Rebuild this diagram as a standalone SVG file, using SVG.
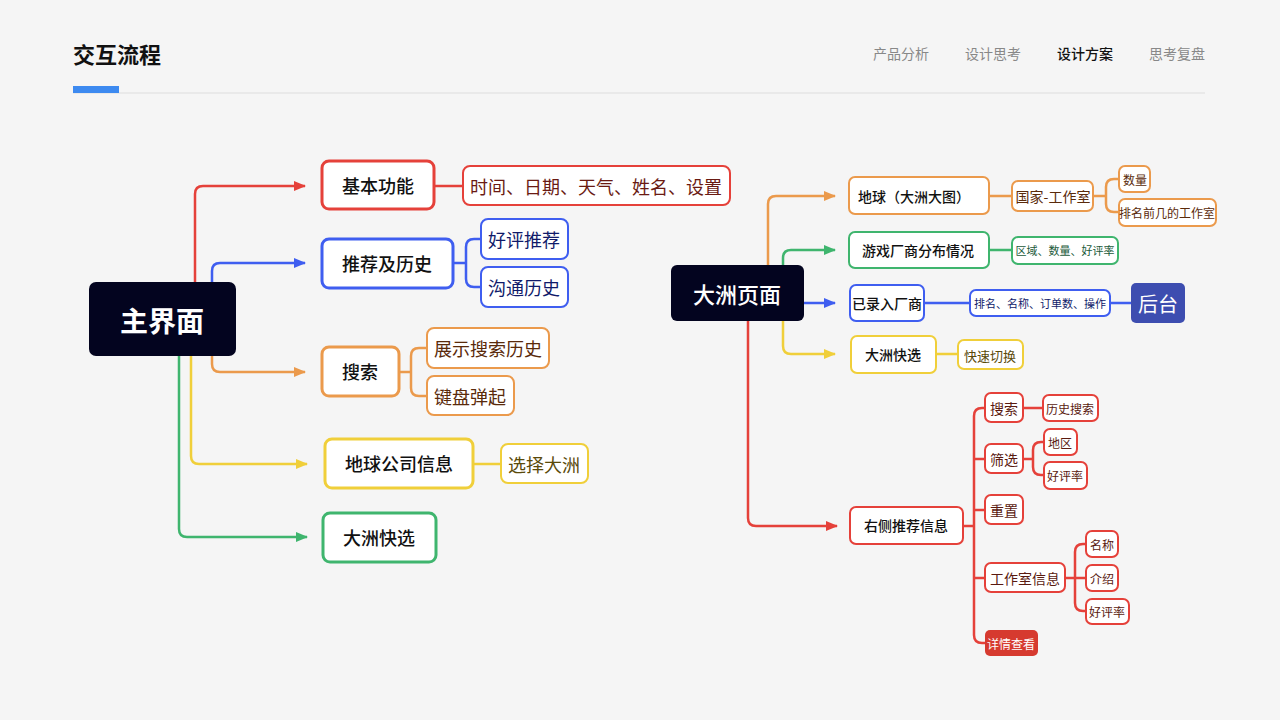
<svg xmlns="http://www.w3.org/2000/svg" width="1280" height="720" viewBox="0 0 1280 720">
<defs>
<marker id="aR" markerWidth="12" markerHeight="12" refX="11" refY="6" orient="auto" markerUnits="userSpaceOnUse"><path d="M0,1 L12,6 L0,11Z" fill="#e5413a"/></marker>
<marker id="aB" markerWidth="12" markerHeight="12" refX="11" refY="6" orient="auto" markerUnits="userSpaceOnUse"><path d="M0,1 L12,6 L0,11Z" fill="#3f5ef0"/></marker>
<marker id="aO" markerWidth="12" markerHeight="12" refX="11" refY="6" orient="auto" markerUnits="userSpaceOnUse"><path d="M0,1 L12,6 L0,11Z" fill="#eb9a4c"/></marker>
<marker id="aY" markerWidth="12" markerHeight="12" refX="11" refY="6" orient="auto" markerUnits="userSpaceOnUse"><path d="M0,1 L12,6 L0,11Z" fill="#f0cf3a"/></marker>
<marker id="aG" markerWidth="12" markerHeight="12" refX="11" refY="6" orient="auto" markerUnits="userSpaceOnUse"><path d="M0,1 L12,6 L0,11Z" fill="#3fb56e"/></marker>
</defs>
<style>
text{font-family:"Noto Sans CJK SC","Noto Sans",sans-serif;text-anchor:middle;dominant-baseline:central}
.c{fill:none;stroke-width:2.5}
.r{stroke:#e5413a}.b{stroke:#3f5ef0}.o{stroke:#eb9a4c}.y{stroke:#f0cf3a}.g{stroke:#3fb56e}
.n{fill:#fff;stroke-width:3}
.s{fill:#fff;stroke-width:2}
.dark{fill:#03041f}
.t1{font-size:18px;fill:#111;font-weight:500}
.t2{font-size:18px}
.t3{font-size:14px;fill:#111;font-weight:500}
.t4{font-size:12px}
</style>
<rect width="1280" height="720" fill="#f5f5f5"/>
<g id="header">
<text x="73" y="53" style="text-anchor:start;font-size:22px;font-weight:700;fill:#111">交互流程</text>
<text x="901" y="53" style="font-size:14px;fill:#888">产品分析</text>
<text x="993" y="53" style="font-size:14px;fill:#888">设计思考</text>
<text x="1085" y="53" style="font-size:14px;fill:#111;font-weight:500">设计方案</text>
<text x="1177" y="53" style="font-size:14px;fill:#888">思考复盘</text>
<line x1="73" y1="93" x2="1205" y2="93" stroke="#ddd" stroke-width="1"/>
<rect x="73" y="86" width="46" height="7" fill="#3d8af0"/>
</g>
<g id="connectors">
<path class="c r" d="M195,282 V194 Q195,186 203,186 H305" marker-end="url(#aR)"/>
<path class="c b" d="M212,282 V271 Q212,263 220,263 H305" marker-end="url(#aB)"/>
<path class="c o" d="M212,356 V364 Q212,372 220,372 H305" marker-end="url(#aO)"/>
<path class="c y" d="M191,356 V456 Q191,464 199,464 H307" marker-end="url(#aY)"/>
<path class="c g" d="M179,356 V529 Q179,537 187,537 H307" marker-end="url(#aG)"/>
<path class="c r" d="M434,186 H463"/>
<path class="c b" d="M453,263 H466 M481,239 H474 Q466,239 466,247 V279 Q466,287 474,287 H481"/>
<path class="c o" d="M399,372 H411 M427,348 H419 Q411,348 411,356 V388 Q411,396 419,396 H427"/>
<path class="c y" d="M473,464 H501"/>
<path class="c o" d="M768,265 V204 Q768,196 776,196 H835" marker-end="url(#aO)"/>
<path class="c g" d="M783,265 V258 Q783,250 791,250 H835" marker-end="url(#aG)"/>
<path class="c b" d="M804,303 H835" marker-end="url(#aB)"/>
<path class="c y" d="M783,321 V346 Q783,354 791,354 H835" marker-end="url(#aY)"/>
<path class="c r" d="M748,321 V518 Q748,526 756,526 H837" marker-end="url(#aR)"/>
<path class="c o" stroke-width="2" d="M989,196 H1012 M1093,196 H1106 M1119,179 H1114 Q1106,179 1106,187 V204 Q1106,212 1114,212 H1119"/>
<path class="c g" d="M989,250 H1012"/>
<path class="c b" d="M924,303 H970 M1110,303 H1131"/>
<path class="c y" d="M936,354 H958"/>
<path class="c r" d="M963,526 H974 M985,408 H982 Q974,408 974,416 V635 Q974,643 982,643 H985 M974,459 H985 M974,510 H985 M974,578 H985 M1023,408 H1043 M1023,459 H1033 M1044,442 H1041 Q1033,442 1033,450 V467 Q1033,475 1041,475 H1044 M1065,578 H1075 M1086,544 H1083 Q1075,544 1075,552 V603 Q1075,611 1083,611 H1086 M1075,578 H1086"/>
</g>
<g id="n-main"><rect class="dark" x="89" y="282" width="147" height="74" rx="7"/><text x="162" y="320" style="font-size:28px;fill:#fff;font-weight:700">主界面</text></g>
<g id="n-jb"><rect class="n r" x="322" y="161" width="112" height="48" rx="7"/><text class="t1" x="378" y="185">基本功能</text></g>
<g id="n-sj"><rect class="s r" x="463" y="166" width="267" height="39" rx="7"/><text class="t2" x="596" y="186" fill="#6a1a12">时间、日期、天气、姓名、设置</text></g>
<g id="n-tj"><rect class="n b" x="322" y="239" width="131" height="49" rx="7"/><text class="t1" x="387" y="263">推荐及历史</text></g>
<g id="n-hp"><rect class="s b" x="481" y="219" width="87" height="40" rx="7"/><text class="t2" x="524" y="239" fill="#101a6a">好评推荐</text></g>
<g id="n-gt"><rect class="s b" x="481" y="267" width="87" height="40" rx="7"/><text class="t2" x="524" y="287" fill="#101a6a">沟通历史</text></g>
<g id="n-ss"><rect class="n o" x="322" y="347" width="77" height="49" rx="7"/><text class="t1" x="360" y="371">搜索</text></g>
<g id="n-zs"><rect class="s o" x="427" y="328" width="122" height="40" rx="7"/><text class="t2" x="488" y="348" fill="#5a2a0a">展示搜索历史</text></g>
<g id="n-jp"><rect class="s o" x="427" y="376" width="87" height="39" rx="7"/><text class="t2" x="470" y="396" fill="#5a2a0a">键盘弹起</text></g>
<g id="n-dq"><rect class="n y" x="325" y="439" width="148" height="49" rx="7"/><text class="t1" x="399" y="463">地球公司信息</text></g>
<g id="n-xz"><rect class="s y" x="501" y="444" width="87" height="39" rx="7"/><text class="t2" x="544" y="464" fill="#5a4a0a">选择大洲</text></g>
<g id="n-kx"><rect class="n g" x="323" y="513" width="113" height="49" rx="7"/><text class="t1" x="379" y="537">大洲快选</text></g>
<g id="n-dz"><rect class="dark" x="671" y="265" width="133" height="56" rx="6"/><text x="737" y="293" style="font-size:22px;fill:#fff;font-weight:500">大洲页面</text></g>
<g id="n-dqdt"><rect class="s o" x="849" y="177" width="140" height="37" rx="6"/><text class="t3" x="914" y="196">地球（大洲大图）</text></g>
<g id="n-gj"><rect class="s o" x="1012" y="181" width="81" height="30" rx="6"/><text x="1053" y="196" style="font-size:14px;fill:#5a2a0a">国家-工作室</text></g>
<g id="n-sl"><rect class="s o" x="1119" y="166" width="31" height="26" rx="6" stroke-width="1.5"/><text class="t4" x="1135" y="179" fill="#5a2a0a">数量</text></g>
<g id="n-pm"><rect class="s o" x="1119" y="199" width="97" height="27" rx="6" stroke-width="1.5"/><text class="t4" x="1167" y="212" fill="#5a2a0a">排名前几的工作室</text></g>
<g id="n-yx"><rect class="s g" x="849" y="232" width="140" height="36" rx="6"/><text class="t3" x="918" y="250">游戏厂商分布情况</text></g>
<g id="n-qy"><rect class="s g" x="1012" y="237" width="106" height="27" rx="6" stroke-width="1.5"/><text x="1065" y="250" style="font-size:11px;fill:#1a5a3a">区域、数量、好评率</text></g>
<g id="n-yl"><rect class="s b" x="850" y="285" width="74" height="36" rx="6"/><text class="t3" x="887" y="303">已录入厂商</text></g>
<g id="n-pmmc"><rect class="s b" x="970" y="290" width="140" height="26" rx="6" stroke-width="1.5"/><text x="1040" y="303" style="font-size:11px;fill:#101a6a">排名、名称、订单数、操作</text></g>
<g id="n-ht"><rect x="1131" y="283" width="54" height="40" rx="5" fill="#3d4db0"/><text x="1158" y="303" style="font-size:20px;fill:#fff">后台</text></g>
<g id="n-kx2"><rect class="s y" x="851" y="336" width="85" height="37" rx="6"/><text class="t3" x="893" y="354">大洲快选</text></g>
<g id="n-ksqh"><rect class="s y" x="958" y="340" width="65" height="29" rx="6" stroke-width="1.5"/><text x="990" y="355" style="font-size:13px;fill:#5a4a0a">快速切换</text></g>
<g id="n-yc"><rect class="s r" x="850" y="507" width="113" height="37" rx="6"/><text class="t3" x="906" y="525">右侧推荐信息</text></g>
<g id="n-ss2"><rect class="s r" x="985" y="393" width="38" height="29" rx="6"/><text x="1004" y="408" style="font-size:14px;fill:#5a1a10">搜索</text></g>
<g id="n-lsss"><rect class="s r" x="1043" y="395" width="55" height="26" rx="6" stroke-width="1.5"/><text class="t4" x="1070" y="408" fill="#5a1a10">历史搜索</text></g>
<g id="n-sx"><rect class="s r" x="985" y="444" width="38" height="29" rx="6"/><text x="1004" y="459" style="font-size:14px;fill:#5a1a10">筛选</text></g>
<g id="n-dqu"><rect class="s r" x="1044" y="429" width="33" height="26" rx="6" stroke-width="1.5"/><text class="t4" x="1060" y="442" fill="#5a1a10">地区</text></g>
<g id="n-hpl"><rect class="s r" x="1044" y="462" width="43" height="27" rx="6" stroke-width="1.5"/><text class="t4" x="1065" y="475" fill="#5a1a10">好评率</text></g>
<g id="n-cz"><rect class="s r" x="985" y="495" width="38" height="29" rx="6"/><text x="1004" y="510" style="font-size:14px;fill:#5a1a10">重置</text></g>
<g id="n-gzs"><rect class="s r" x="985" y="563" width="80" height="29" rx="6"/><text x="1025" y="578" style="font-size:14px;fill:#5a1a10">工作室信息</text></g>
<g id="n-mc"><rect class="s r" x="1086" y="531" width="32" height="26" rx="6" stroke-width="1.5"/><text class="t4" x="1102" y="544" fill="#5a1a10">名称</text></g>
<g id="n-js"><rect class="s r" x="1086" y="565" width="32" height="26" rx="6" stroke-width="1.5"/><text class="t4" x="1102" y="578" fill="#5a1a10">介绍</text></g>
<g id="n-hpl2"><rect class="s r" x="1086" y="599" width="43" height="25" rx="6" stroke-width="1.5"/><text class="t4" x="1107" y="611" fill="#5a1a10">好评率</text></g>
<g id="n-xq"><rect x="985" y="630" width="53" height="26" rx="5" fill="#d63a2f"/><text class="t4" x="1011" y="643" fill="#fff">详情查看</text></g>
</svg>
